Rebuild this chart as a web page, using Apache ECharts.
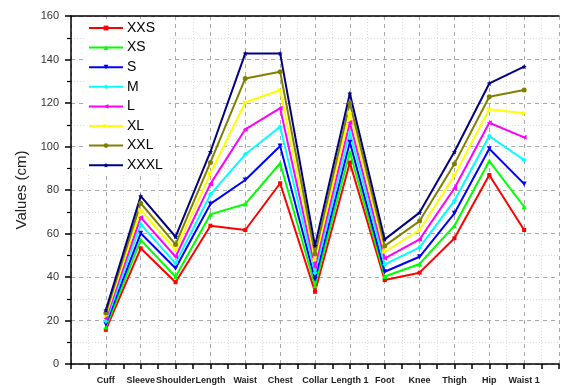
<!DOCTYPE html>
<html><head><meta charset="utf-8">
<script src="https://cdn.jsdelivr.net/npm/echarts@6/dist/echarts.min.js"></script>
<style>html,body{margin:0;padding:0;background:#fff}#c{width:562px;height:385px}</style>
</head><body><div id="c"></div>
<script>
const categories = ['Cuff','Sleeve','Shoulder','Length','Waist','Chest','Collar','Length 1','Foot','Knee','Thigh','Hip','Waist 1'];
const seriesNames = ['XXS','XS','S','M','L','XL','XXL','XXXL'];
const XXS  = [15.7, 53.2, 37.6, 63.6, 61.6, 83.1, 33.2, 92.6, 38.6, 42.0, 57.8, 86.9, 61.6];
const XS   = [17.0, 57.0, 40.1, 68.8, 73.6, 92.3, 36.0, 97.5, 40.2, 46.0, 63.6, 93.3, 72.3];
const S    = [18.3, 60.1, 44.0, 73.6, 84.6, 100.2, 39.0, 102.0, 42.4, 49.3, 69.3, 99.0, 82.8];
const M    = [19.6, 64.2, 46.3, 78.0, 96.4, 109.1, 42.0, 106.5, 45.8, 53.6, 75.1, 104.8, 93.8];
const L    = [20.9, 67.4, 49.3, 82.8, 107.9, 117.6, 44.7, 111.0, 48.6, 57.3, 80.8, 110.9, 104.2];
const XL   = [22.2, 70.8, 52.4, 87.7, 120.2, 126.0, 47.8, 115.5, 51.6, 61.6, 86.6, 117.1, 115.3];
const XXL  = [23.5, 73.9, 55.0, 92.7, 131.3, 134.4, 50.6, 120.0, 54.3, 65.7, 92.0, 122.9, 126.0];
const XXXL = [24.8, 77.2, 58.5, 97.6, 142.8, 142.8, 54.4, 124.4, 57.3, 69.6, 97.6, 129.0, 136.7];
const yTicks = [0, 20, 40, 60, 80, 100, 120, 140, 160];

const values = [XXS, XS, S, M, L, XL, XXL, XXXL];
const colors = ['#ff0000','#00ff00','#0000ff','#00ffff','#ff00ff','#ffff00','#808000','#000080'];
const symbols = ['rect','triangle','triangle','diamond','triangle','triangle','circle',
  'path://M0,-10 L2.9,-4 L9.5,-3 L4.7,1.5 L5.9,8 L0,5 L-5.9,8 L-4.7,1.5 L-9.5,-3 L-2.9,-4 Z'];
const rotates = [0, 0, 180, 0, 90, -90, 0, 0];
const sizes = [4, 5, 5, 5, 5, 5, 5, 5];

const chart = echarts.init(document.getElementById('c'), null, {renderer:'canvas'});
const font = 'Liberation Sans, Arial, sans-serif';
chart.setOption({
  animation: false,
  grid: {left: 71, right: 0, top: 16, bottom: 21},
  legend: {
    orient: 'vertical', left: 86, top: 19,
    itemWidth: 34, itemHeight: 6, itemGap: 5.6,
    backgroundColor: '#ffffff', padding: [2, 6, 2, 2],
    textStyle: {fontFamily: font, fontSize: 14, color: '#000', padding: [0,0,0,-1]},
    data: seriesNames
  },
  xAxis: [{
    type: 'value', min: 0, max: 14, interval: 1,
    axisLine: {lineStyle: {color: '#000', width: 1.5}},
    axisTick: {inside: false, length: 5, lineStyle: {color: '#000', width: 1.5}},
    minorTick: {show: true, splitNumber: 2, length: 5, lineStyle: {color: '#000', width: 1.5}},
    axisLabel: {margin: 12, fontFamily: font, fontSize: 9, fontWeight: 'bold', color: '#222',
      formatter: v => (v >= 1 && v <= categories.length) ? categories[v - 1] : ''},
    splitLine: {show: true, lineStyle: {color: '#a8a8a8', type: [4, 4], width: 1}},
    minorSplitLine: {show: true, lineStyle: {color: '#dcdcdc', type: [1, 2], width: 1}}
  }, {
    type: 'value', position: 'top', min: 0, max: 14,
    axisLine: {show: true, lineStyle: {color: '#000', width: 1.5}},
    axisTick: {show: false}, axisLabel: {show: false}, splitLine: {show: false}
  }],
  yAxis: {
    type: 'value', min: yTicks[0], max: yTicks[yTicks.length - 1], interval: 20,
    name: 'Values (cm)', nameLocation: 'middle', nameGap: 37,
    nameTextStyle: {fontFamily: font, fontSize: 15, color: '#222'},
    axisLine: {show: true, lineStyle: {color: '#000', width: 1.5}},
    axisTick: {show: true, length: 6, lineStyle: {color: '#000', width: 1.5}},
    minorTick: {show: true, splitNumber: 2, length: 4, lineStyle: {color: '#000', width: 1.2}},
    axisLabel: {margin: 12, fontFamily: font, fontSize: 11, color: '#333'},
    splitLine: {show: true, lineStyle: {color: '#a8a8a8', type: [4, 4], width: 1}},
    minorSplitLine: {show: true, lineStyle: {color: '#dcdcdc', type: [1, 2], width: 1}}
  },
  series: seriesNames.map((n, i) => ({
    name: n, type: 'line', xAxisIndex: 0,
    data: values[i].map((v, j) => [j + 1, v]),
    symbol: symbols[i], symbolSize: sizes[i], symbolRotate: rotates[i],
    showAllSymbol: true,
    itemStyle: {color: colors[i]},
    lineStyle: {color: colors[i], width: 2}
  }))
});
</script></body></html>
